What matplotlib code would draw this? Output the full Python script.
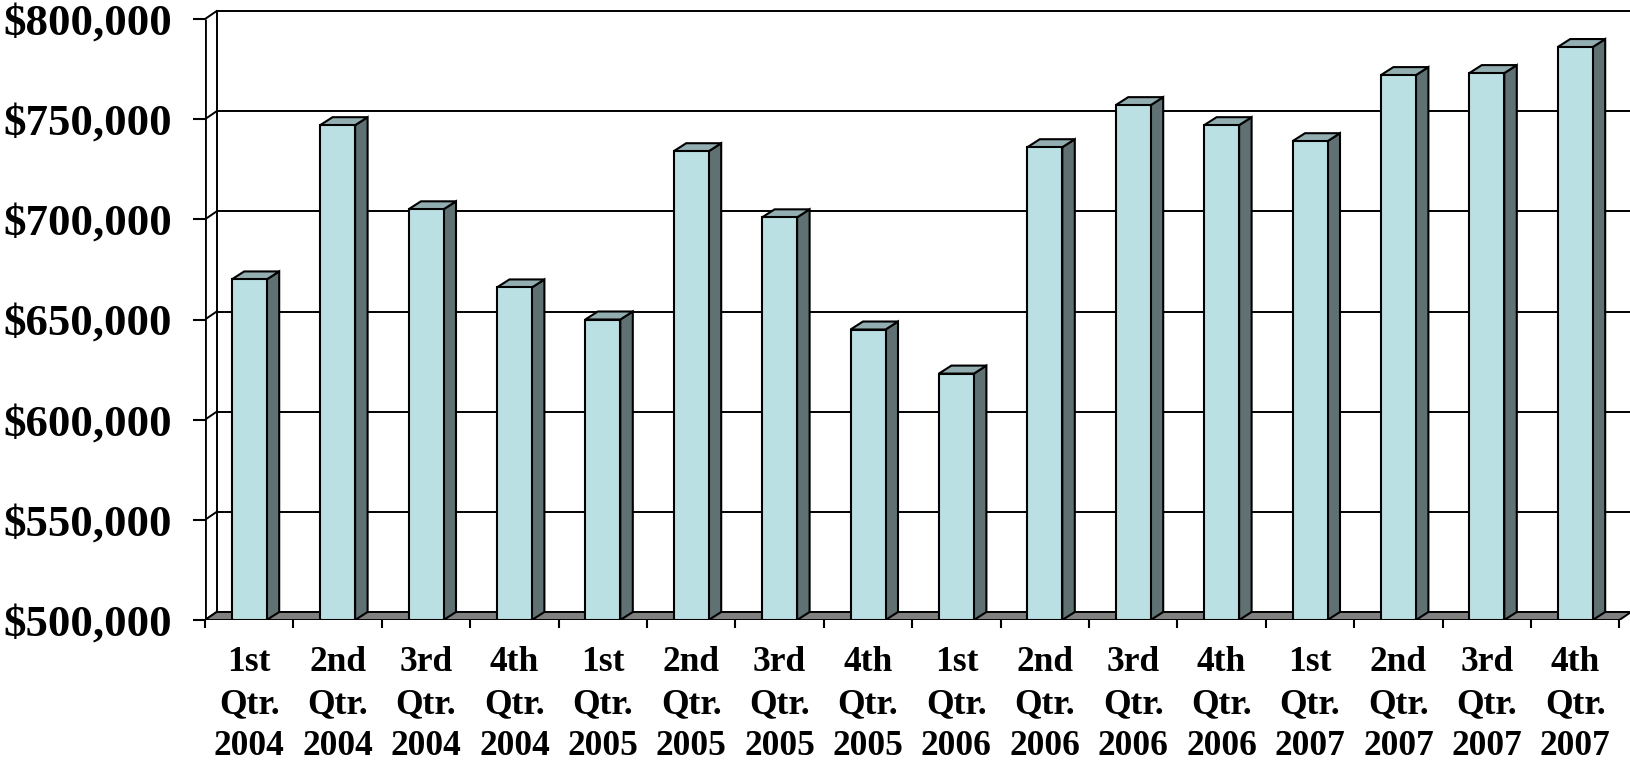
import matplotlib
matplotlib.use("Agg")
import matplotlib.pyplot as plt
from matplotlib.patches import Polygon
from matplotlib.transforms import blended_transform_factory

# ---- data ----
quarters = ["1st", "2nd", "3rd", "4th"] * 4
years = ["2004"] * 4 + ["2005"] * 4 + ["2006"] * 4 + ["2007"] * 4
values = [670000, 747000, 705000, 666000, 650000, 734000, 701000, 645000,
          623000, 736000, 757000, 747000, 739000, 772000, 773000, 786000]
yticks = [500000, 550000, 600000, 650000, 700000, 750000, 800000]
ytick_labels = ["$500,000", "$550,000", "$600,000", "$650,000",
                "$700,000", "$750,000", "$800,000"]

plt.rcParams['font.family'] = ['Liberation Serif', 'DejaVu Serif']
plt.rcParams['font.weight'] = 'bold'

W, H = 1630, 762
fig = plt.figure(figsize=(W / 100, H / 100), dpi=100)
x0px = 205.0
catw = 88.4
y500 = 620.0
px_per_unit = 2.0033 / 1000.0

ax = fig.add_axes([x0px / W, (H - y500) / H, (W - x0px) / W, y500 / H])
xmax = (W - x0px) / catw
ymin = yticks[0]
ytop = ymin + y500 / px_per_unit
ax.set_xlim(0, xmax)
ax.set_ylim(ymin, ytop)
ax.set_frame_on(False)

# depth offsets in data units
wall_dx = 11.7 / catw
wall_dy = 8.0 / px_per_unit
bar_dx = 12.5 / catw
bar_dy = 8.0 / px_per_unit

n = len(values)
lw_grid = 1.4
# back wall gridlines
for v in yticks:
    ax.plot([wall_dx, xmax], [v + wall_dy, v + wall_dy], color='black', lw=lw_grid, zorder=1,
            solid_capstyle='butt')
    # left wall diagonal
    ax.plot([0, wall_dx], [v, v + wall_dy], color='black', lw=lw_grid, zorder=1)
# back wall left vertical
ax.plot([wall_dx, wall_dx], [ymin + wall_dy, yticks[-1] + wall_dy], color='black', lw=lw_grid, zorder=1)

# floor
floor = Polygon([(0, ymin), (n, ymin), (n + wall_dx, ymin + wall_dy), (wall_dx, ymin + wall_dy)],
                closed=True, facecolor='#808080', edgecolor='black', lw=1.4, zorder=2)
ax.add_patch(floor)

# front axis line
ax.plot([0, 0], [ymin, yticks[-1]], color='black', lw=2.0, zorder=6, solid_capstyle='butt')

# bars
bw = 35.0 / catw
front_c = '#BBE0E3'
top_c = '#93AEB1'
side_c = '#5F7173'
for i, v in enumerate(values):
    xl = i + 0.5 - bw / 2
    xr = i + 0.5 + bw / 2
    side = Polygon([(xr, ymin), (xr + bar_dx, ymin + bar_dy), (xr + bar_dx, v + bar_dy), (xr, v)],
                   closed=True, facecolor=side_c, edgecolor='black', lw=1.5, zorder=3,
                   joinstyle='miter')
    top = Polygon([(xl, v), (xr, v), (xr + bar_dx, v + bar_dy), (xl + bar_dx, v + bar_dy)],
                  closed=True, facecolor=top_c, edgecolor='black', lw=1.5, zorder=3,
                  joinstyle='miter')
    ax.add_patch(side)
    ax.add_patch(top)
    ax.bar(i + 0.5, v - ymin, bottom=ymin, width=bw, color=front_c, edgecolor='black',
           lw=1.5, zorder=4)

# ticks
ax.set_yticks(yticks)
ax.set_yticklabels(ytick_labels)
ax.tick_params(axis='y', direction='out', length=8.6, width=1.5, pad=15, labelsize=32.3)
for t in ax.get_yticklabels():
    t.set_fontweight('bold')
ax.set_xticks(range(n + 1))
ax.set_xticklabels([])
ax.tick_params(axis='x', direction='out', length=5.8, width=1.5)

# category labels
tr = blended_transform_factory(ax.transData, fig.transFigure)
for i in range(n):
    for line, base in zip([quarters[i], "Qtr.", years[i]], [671, 713, 755]):
        ax.text(i + 0.5, (H - base) / H, line, transform=tr, ha='center', va='baseline',
                fontsize=25.5, fontweight='bold', clip_on=False)

fig.savefig("out.png", dpi=100)
